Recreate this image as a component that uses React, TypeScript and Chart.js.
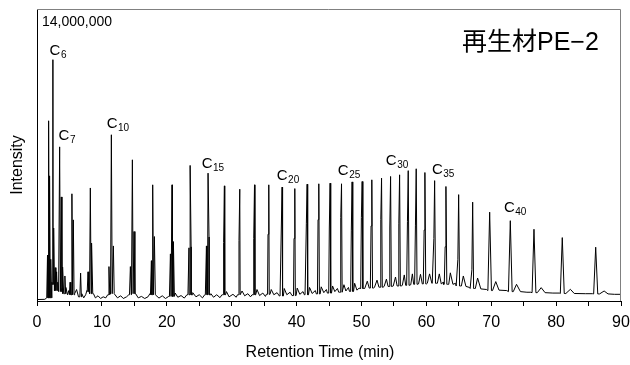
import React, { useEffect, useRef } from 'react';
import { Chart, registerables } from 'chart.js';

Chart.register(...registerables);

// Retention time (min) of each resolved peak (alkadiene / alkene / alkane groups)
const peakTimes = [
  1.62, 1.79, 1.98, 2.15, 2.45, 2.58, 2.8, 3.02, 3.49, 3.74, 4.0, 4.3, 5.1, 5.38, 5.6, 6.72,
  7.86, 8.22, 8.47, 11.09, 11.46, 11.77, 14.39, 14.7, 14.95, 17.63, 17.83, 18.09,
  20.56, 20.81, 21.02, 23.42, 23.6, 23.75, 26.11, 26.36, 26.51,
  28.76, 28.88, 31.13, 31.25, 33.4, 33.52, 35.6, 35.72, 37.65, 37.77, 39.61, 39.73,
  41.51, 41.63, 43.31, 43.43, 45.05, 45.17, 46.81, 46.93, 48.44, 48.56, 49.99, 50.11,
  51.48, 51.6, 52.98, 53.1, 54.37, 54.49, 55.76, 55.88, 57.09, 57.21, 58.32, 58.44,
  59.66, 59.78, 61.16, 61.28, 62.9, 63.02, 64.86, 64.98, 67.02, 67.14,
  69.76, 72.94, 76.59, 80.95, 86.1,
];
// Peak apex intensity (x 1,000,000)
const peakHeights = [
  2.2, 8.64, 6.0, 2.0, 11.57, 3.5, 1.6, 1.4, 7.39, 4.99, 1.63, 1.2, 0.9, 5.14, 3.89, 1.34,
  1.4, 5.42, 2.78, 1.65, 7.97, 2.64, 1.65, 6.77, 3.33, 1.93, 5.57, 3.09,
  2.26, 5.57, 2.85, 2.55, 6.5, 2.6, 2.64, 6.13, 3.07,
  2.8, 5.52, 2.9, 5.36, 3.0, 5.57, 3.2, 5.57, 3.5, 5.46, 3.0, 5.39,
  3.7, 5.6, 3.9, 5.62, 3.5, 5.65, 4.0, 5.62, 3.4, 5.71, 4.0, 5.73,
  3.6, 5.81, 3.9, 5.89, 3.5, 5.97, 3.7, 6.05, 3.8, 6.25, 3.6, 6.34,
  3.4, 6.16, 3.0, 5.77, 2.6, 5.49, 2.0, 5.1, 1.5, 4.74,
  4.26, 3.85, 3.44, 3.04, 2.58,
];

// Baseline / noise samples (x 1,000,000)
const baselineTimes = [
  0, 1.2, 1.5, 2.3, 2.69, 2.91, 3.2, 3.33, 3.87, 4.15, 4.45, 4.7, 4.9, 5.22, 5.8, 6.1, 6.4, 6.9, 7.2, 7.5,
  7.7, 8.05, 8.7, 9.0, 9.4, 9.8, 10.2, 10.6, 10.9, 11.28, 11.95, 12.4, 12.9, 13.3, 13.8, 14.15, 14.55,
  15.2, 15.6, 16.1, 16.6, 17.1, 17.4, 18.3, 18.8, 19.3, 19.8, 20.3, 21.3, 21.7, 22.2, 22.7, 23.1,
  24.0, 24.5, 25.0, 25.5, 25.85, 26.8, 27.2, 27.7, 28.2, 28.5, 29.2, 29.6, 30.2, 30.7, 30.9,
  31.6, 32.0, 32.5, 32.9, 33.15, 33.9, 34.3, 34.8, 35.2, 35.35, 36.1, 36.5, 37.0, 37.35,
  38.1, 38.5, 39.0, 39.3, 40.1, 40.5, 41.0, 41.2, 42.0, 42.4, 42.9, 43.05, 43.8, 44.2, 44.6, 44.75,
  45.55, 45.9, 46.3, 46.5, 47.3, 47.6, 48.0, 48.15, 48.95, 49.3, 49.65, 50.5, 50.9, 51.2,
  52.0, 52.4, 52.7, 53.5, 53.85, 54.1, 54.9, 55.25, 55.5, 56.3, 56.6, 56.82, 57.6, 57.85, 58.05,
  58.8, 59.1, 59.38, 60.15, 60.5, 60.85, 61.7, 62.0, 62.3, 62.6, 63.45, 63.7, 64.1, 64.5,
  65.4, 65.7, 66.1, 66.65, 67.55, 67.9, 68.4, 69.3, 70.2, 70.7, 71.2, 72.4, 73.4, 73.9, 74.5,
  75.5, 76.1, 77.1, 77.7, 78.3, 79.5, 80.5, 81.5, 82.2, 82.8, 84.5, 85.6, 86.7, 87.4, 88.0, 89.0, 90,
];
const baselineValues = [
  0.07, 0.08, 0.15, 0.9, 0.8, 0.5, 0.9, 0.45, 0.6, 0.35, 0.65, 0.3, 0.5, 0.3, 0.35, 0.55, 0.2, 0.35, 0.15, 0.3,
  0.5, 0.45, 0.35, 0.15, 0.25, 0.12, 0.2, 0.15, 0.3, 0.45, 0.35, 0.15, 0.25, 0.12, 0.2, 0.3, 0.4,
  0.35, 0.15, 0.22, 0.12, 0.2, 0.35, 0.3, 0.14, 0.25, 0.12, 0.22, 0.38, 0.18, 0.26, 0.14, 0.3,
  0.4, 0.2, 0.3, 0.15, 0.3, 0.35, 0.18, 0.3, 0.16, 0.3, 0.45, 0.2, 0.32, 0.18, 0.3,
  0.48, 0.25, 0.35, 0.2, 0.3, 0.55, 0.26, 0.38, 0.22, 0.32, 0.55, 0.3, 0.4, 0.24,
  0.6, 0.3, 0.42, 0.26, 0.62, 0.32, 0.45, 0.3, 0.65, 0.36, 0.5, 0.34, 0.68, 0.4, 0.55, 0.38,
  0.72, 0.45, 0.6, 0.42, 0.78, 0.48, 0.65, 0.46, 0.85, 0.52, 0.62, 0.6, 0.95, 0.62,
  0.65, 1.0, 0.66, 0.7, 1.05, 0.7, 0.72, 1.15, 0.72, 0.75, 1.25, 0.75, 0.78, 1.3, 0.8,
  0.82, 1.28, 0.82, 0.85, 1.3, 0.85, 0.85, 1.3, 0.82, 0.9, 0.8, 1.35, 0.8, 0.85,
  0.72, 1.2, 0.7, 0.65, 0.6, 1.1, 0.58, 0.55, 0.5, 0.93, 0.52, 0.5, 0.45, 0.8, 0.45,
  0.42, 0.42, 0.4, 0.64, 0.4, 0.38, 0.38, 0.36, 0.56, 0.36, 0.35, 0.35, 0.34, 0.48, 0.34, 0.32, 0.32,
];

const xTickValues = [0, 10, 20, 30, 40, 50, 60, 70, 80, 90];

// Carbon-number annotations
const carbonNumbers = ['6', '7', '10', '15', '20', '25', '30', '35', '40'];
const carbonLabelTimes = [1.94, 3.33, 10.73, 25.38, 36.95, 46.36, 53.76, 60.86, 71.96];
const carbonLabelValues = [11.81, 7.73, 8.3, 6.38, 5.8, 6.05, 6.53, 6.1, 4.27];

const Y_MAX = 14; // 14,000,000
const SANS = '"Liberation Sans", Arial, Helvetica, sans-serif';

function peakHalfWidth(t: number) {
  return 0.1 + 0.0025 * t;
}

function buildTrace() {
  const pts: { x: number; y: number }[] = [];
  baselineTimes.forEach((t, i) => {
    const inside = peakTimes.some((p) => Math.abs(p - t) < peakHalfWidth(p));
    if (!inside) pts.push({ x: t, y: baselineValues[i] });
  });
  peakTimes.forEach((t, i) => {
    let prev = baselineValues[0];
    let next = baselineValues[baselineValues.length - 1];
    for (let j = 0; j < baselineTimes.length; j++) {
      if (baselineTimes[j] <= t) prev = baselineValues[j];
      else { next = baselineValues[j]; break; }
    }
    const foot = Math.min(prev, next);
    const w = peakHalfWidth(t);
    pts.push({ x: t - w, y: foot }, { x: t, y: peakHeights[i] }, { x: t + w, y: foot });
  });
  pts.sort((a, b) => a.x - b.x);
  return pts;
}

const decorPlugin = {
  id: 'decor',
  afterDraw(chart: any) {
    const { ctx, chartArea, scales } = chart;
    const { left, top, right, bottom } = chartArea;
    const x = scales.x;
    const y = scales.y;
    ctx.save();
    // top & right frame (grey)
    ctx.strokeStyle = '#808080';
    ctx.lineWidth = 1;
    ctx.beginPath();
    ctx.moveTo(left, top + 0.5);
    ctx.lineTo(right - 0.5, top + 0.5);
    ctx.lineTo(right - 0.5, bottom);
    ctx.stroke();

    ctx.fillStyle = '#000';
    // full-scale label
    ctx.font = `14px ${SANS}`;
    ctx.textAlign = 'left';
    ctx.textBaseline = 'alphabetic';
    ctx.fillText('14,000,000', left + 5, top + 17);

    // sample name
    ctx.font = `25px "Liberation Sans", "Noto Sans CJK JP", sans-serif`;
    ctx.fillText('再生材PE−2', 462, 50);

    // carbon number labels
    carbonNumbers.forEach((n, i) => {
      const px = x.getPixelForValue(carbonLabelTimes[i]);
      const py = y.getPixelForValue(carbonLabelValues[i]);
      ctx.font = `15px ${SANS}`;
      ctx.fillText('C', px, py);
      const cw = ctx.measureText('C').width;
      ctx.font = `10px ${SANS}`;
      ctx.fillText(n, px + cw + 0.5, py + 3);
    });

    // axis titles
    ctx.font = `16px ${SANS}`;
    ctx.textAlign = 'center';
    ctx.textBaseline = 'middle';
    ctx.fillText('Retention Time (min)', 320, 353);
    ctx.translate(18, 165);
    ctx.rotate(-Math.PI / 2);
    ctx.fillText('Intensity', 0, 0);
    ctx.restore();
  },
};

export default function App() {
  const canvasRef = useRef<HTMLCanvasElement | null>(null);

  useEffect(() => {
    document.body.style.margin = '0';
    const canvas = canvasRef.current;
    if (!canvas) return;
    const chart = new Chart(canvas, {
      type: 'line',
      data: {
        datasets: [
          {
            data: buildTrace(),
            borderColor: '#000',
            borderWidth: 1,
            pointRadius: 0,
            tension: 0,
            fill: false,
          },
        ],
      },
      options: {
        responsive: false,
        animation: false,
        parsing: true,
        layout: { autoPadding: false, padding: { top: 9, right: 9, left: 0, bottom: 0 } },
        plugins: {
          legend: { display: false },
          tooltip: { enabled: false },
        },
        scales: {
          x: {
            type: 'linear',
            min: 0,
            max: 90,
            afterFit: (s: any) => {
              s.height = 64;
              s.paddingLeft = 0;
              s.paddingRight = 0;
            },
            afterBuildTicks: (s: any) => {
              const t: { value: number }[] = [];
              for (let v = 0; v <= 90; v += 5) t.push({ value: v });
              s.ticks = t;
            },
            ticks: {
              autoSkip: false,
              maxRotation: 0,
              padding: 7,
              color: '#000',
              font: { size: 16, family: SANS },
              callback: (v: any) => (xTickValues.includes(Number(v)) ? String(v) : ''),
            },
            grid: { drawOnChartArea: false, drawTicks: true, tickLength: 5, color: '#000' },
            border: { display: true, color: '#000', width: 1 },
          },
          y: {
            type: 'linear',
            min: 0,
            max: Y_MAX,
            afterFit: (s: any) => {
              s.width = 37;
              s.paddingTop = 0;
              s.paddingBottom = 0;
            },
            ticks: { display: false },
            grid: { display: false, drawTicks: false },
            border: { display: true, color: '#000', width: 1 },
          },
        },
      },
      plugins: [decorPlugin],
    });
    return () => chart.destroy();
  }, []);

  return (
    <div style={{ width: 630, height: 365 }}>
      <canvas ref={canvasRef} width={630} height={365} style={{ display: 'block' }} />
    </div>
  );
}
